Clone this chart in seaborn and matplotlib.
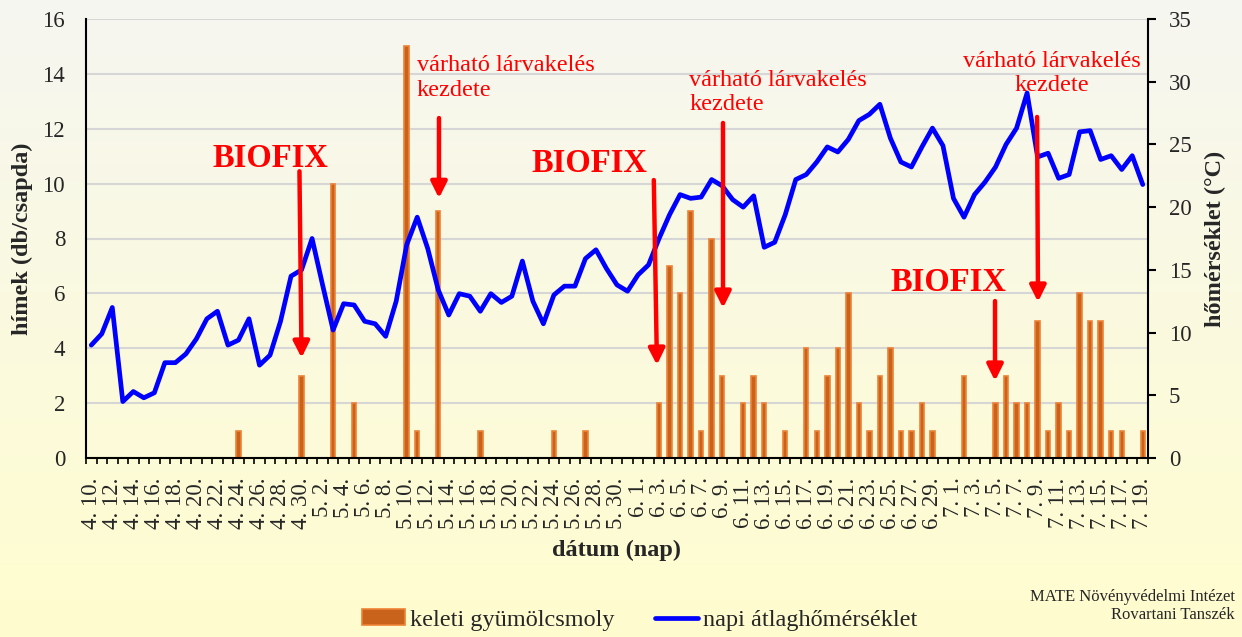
import numpy as np
import pandas as pd
import matplotlib
matplotlib.use("Agg")
import matplotlib.pyplot as plt
from matplotlib.patches import Patch
from matplotlib.lines import Line2D
import seaborn as sns

# ---------------- data ----------------
dates = pd.date_range("2023-04-10", "2023-07-19", freq="D")
date_labels = [f"{d.month}. {d.day}." for d in dates]

moth_counts = [
    0, 0, 0, 0, 0, 0, 0, 0, 0, 0,
    0, 0, 0, 0, 1, 0, 0, 0, 0, 0,
    3, 0, 0, 10, 0, 2, 0, 0, 0, 0,
    15, 1, 0, 9, 0, 0, 0, 1, 0, 0,
    0, 0, 0, 0, 1, 0, 0, 1, 0, 0,
    0, 0, 0, 0, 2, 7, 6, 9, 1, 8,
    3, 0, 2, 3, 2, 0, 1, 0, 4, 1,
    3, 4, 6, 2, 1, 3, 4, 1, 1, 2,
    1, 0, 0, 3, 0, 0, 2, 3, 2, 2,
    5, 1, 2, 1, 6, 5, 5, 1, 1, 0,
    1,
]

temperature = [
    9.0, 9.9, 12.0, 4.5, 5.3, 4.8, 5.2, 7.6, 7.6, 8.3,
    9.5, 11.1, 11.7, 9.0, 9.4, 11.1, 7.4, 8.2, 10.9, 14.5,
    15.0, 17.5, 13.8, 10.2, 12.3, 12.2, 10.9, 10.7, 9.7, 12.5,
    17.0, 19.2, 16.7, 13.4, 11.4, 13.1, 12.9, 11.7, 13.1, 12.4,
    12.9, 15.7, 12.5, 10.7, 13.0, 13.7, 13.7, 15.9, 16.6, 15.1,
    13.8, 13.3, 14.6, 15.4, 17.5, 19.4, 21.0, 20.7, 20.8, 22.2,
    21.7, 20.6, 20.0, 20.9, 16.8, 17.2, 19.4, 22.2, 22.6, 23.6,
    24.8, 24.4, 25.4, 26.9, 27.4, 28.2, 25.5, 23.6, 23.2, 24.8,
    26.3, 24.9, 20.7, 19.2, 21.0, 22.0, 23.2, 25.0, 26.3, 29.1,
    24.0, 24.3, 22.3, 22.6, 26.0, 26.1, 23.8, 24.1, 23.0, 24.1,
    21.8,
]

# annotation anchors (category index, left-axis units)
biofix_x = [17.0, 47.4, 81.5]
biofix_y = [10.93, 10.75, 6.38]
biofix_arrows = [(19.8, 10.45, 20.0, 3.65), (53.5, 10.13, 53.8, 3.39), (85.95, 5.72, 85.95, 2.81)]
larva_text = "várható lárvakelés\nkezdete"
larva_pos = [(30.98, 13.85, "left"), (56.85, 13.33, "left"), (91.37, 14.02, "center")]
larva_arrows = [(33.07, 12.39, 33.07, 9.47), (60.08, 12.21, 60.08, 5.47), (89.95, 12.43, 90.04, 5.69)]

df = pd.DataFrame({"datum": date_labels, "darab": moth_counts,
                   "idx": np.arange(len(date_labels)), "homerseklet": temperature})

# ---------------- style ----------------
sns.set_style("white")
plt.rcParams["font.family"] = ["Liberation Serif", "DejaVu Serif"]
plt.rcParams["axes.unicode_minus"] = False

W, H = 1242, 637
fig = plt.figure(figsize=(W / 100, H / 100), dpi=100)

# background gradient
bg = fig.add_axes([0, 0, 1, 1], zorder=-10)
top = np.array([246, 246, 241]) / 255
bot = np.array([255, 253, 206]) / 255
t = np.linspace(0, 1, 256)[:, None]
grad = (top[None, :] * (1 - t) + bot[None, :] * t)[:, None, :]
bg.imshow(grad, aspect="auto", extent=[0, 1, 0, 1])
bg.axis("off")

left, right = 86 / W, 1148 / W
bottom, topy = 1 - 458 / H, 1 - 19 / H
ax = fig.add_axes([left, bottom, right - left, topy - bottom])
ax.patch.set_alpha(0)

bar_fill = "#C9621A"
bar_edge = "#EE8236"
sns.barplot(data=df, x="datum", y="darab", order=date_labels, color=bar_fill,
            edgecolor=bar_edge, linewidth=1.2, width=0.42, saturation=1,
            errorbar=None, ax=ax, zorder=2)

ax.set_xlim(-0.5, len(date_labels) - 0.5)
ax.set_ylim(0, 16)
ax.set_yticks(np.arange(0, 17, 2))
ax.yaxis.grid(True, color="#d6d6d6", lw=1.5)
ax.xaxis.grid(False)
ax.set_axisbelow(True)

major = np.arange(0, len(date_labels), 2)
ax.set_xticks(major)
ax.set_xticklabels([date_labels[i] for i in major], rotation=90, fontsize=16.5,
                   va="top", ha="center")
ax.set_xticks(np.arange(-0.5, len(date_labels)), minor=True)
ax.tick_params(axis="x", which="major", length=0, pad=14)
ax.tick_params(axis="x", which="minor", length=4.5, width=1.2, direction="out",
               color="black", bottom=True)
ax.tick_params(axis="y", which="major", length=0, pad=15, labelsize=16.5)

for s in ["top", "right"]:
    ax.spines[s].set_visible(False)
for s in ["left", "bottom"]:
    ax.spines[s].set_color("black")
    ax.spines[s].set_linewidth(1.5)

ax.set_xlabel("dátum (nap)", fontsize=17.5, fontweight="bold")
ax.xaxis.set_label_coords(0.5, -0.187)
ax.set_ylabel("hímek (db/csapda)", fontsize=17.5, fontweight="bold")
ax.yaxis.set_label_coords(-0.050, 0.5)

# secondary axis: temperature
ax2 = ax.twinx()
sns.lineplot(data=df, x="idx", y="homerseklet", color="#0000FF", lw=3.4,
             ax=ax2, zorder=3)
ax2.set_ylim(0, 35)
ax2.set_yticks(np.arange(0, 36, 5))
ax2.set_xlim(-0.5, len(date_labels) - 0.5)
ax2.tick_params(axis="y", length=6, width=1.5, direction="out", pad=9,
                labelsize=16.5, color="black")
for s in ["top", "left", "bottom"]:
    ax2.spines[s].set_visible(False)
ax2.spines["right"].set_color("black")
ax2.spines["right"].set_linewidth(1.5)
ax2.set_ylabel("hőmérséklet (°C)", fontsize=17.5, fontweight="bold")
ax2.yaxis.set_label_coords(1.054, 0.5)
ax2.set_xlabel("")

# annotations
arrow_kw = dict(arrowstyle="-|>", color="#FF0000", lw=3.2, mutation_scale=24,
                shrinkA=0, shrinkB=0)
for x, y in zip(biofix_x, biofix_y):
    ax2.text(x, y, "BIOFIX", transform=ax.transData, color="#FF0000",
             fontsize=23.5, fontweight="bold", ha="center", va="center", zorder=6)
for (x, y, ha) in larva_pos:
    ax2.text(x, y, larva_text, transform=ax.transData, color="#FF0000",
             fontsize=17.5, ha=ha, va="center", linespacing=1.2, zorder=6,
             multialignment="center" if ha == "center" else "left")
for (x0, y0, x1, y1) in biofix_arrows + larva_arrows:
    ax2.annotate("", xy=(x1, y1), xytext=(x0, y0), xycoords=ax.transData,
                 textcoords=ax.transData, arrowprops=arrow_kw, zorder=6)

# legend
handles = [Patch(facecolor=bar_fill, edgecolor=bar_edge, linewidth=1.2),
           Line2D([0], [0], color="#0000FF", lw=3.4)]
fig.legend(handles, ["keleti gyümölcsmoly", "napi átlaghőmérséklet"],
           loc="center", bbox_to_anchor=(0.515, 1 - 620 / H), ncol=2,
           frameon=False, fontsize=17.5, handlelength=1.75, handleheight=0.65,
           columnspacing=1.7, handletextpad=0.2)

fig.text(1235 / W, 1 - 597 / H, "MATE Növényvédelmi Intézet", ha="right",
         va="center", fontsize=12)
fig.text(1235 / W, 1 - 615 / H, "Rovartani Tanszék", ha="right",
         va="center", fontsize=12)

fig.savefig("out.png", dpi=100)
